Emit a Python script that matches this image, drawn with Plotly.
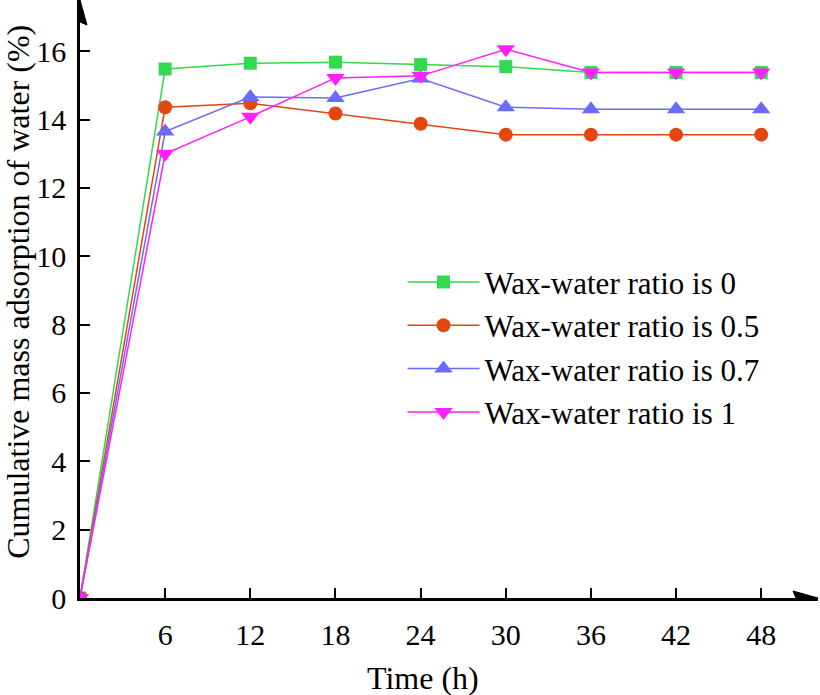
import plotly.graph_objects as go

time_h = [0, 6, 12, 18, 24, 30, 36, 42, 48]
ratio_0 = [0, 15.48, 15.65, 15.68, 15.61, 15.55, 15.38, 15.38, 15.38]
ratio_05 = [0, 14.36, 14.48, 14.18, 13.88, 13.56, 13.56, 13.56, 13.56]
ratio_07 = [0, 13.65, 14.66, 14.63, 15.2, 14.36, 14.3, 14.3, 14.3]
ratio_1 = [0, 13.0, 14.08, 15.22, 15.28, 16.06, 15.38, 15.38, 15.38]
series_names = ["Wax-water ratio is 0", "Wax-water ratio is 0.5",
                "Wax-water ratio is 0.7", "Wax-water ratio is 1"]
x_ticks = [6, 12, 18, 24, 30, 36, 42, 48]
y_ticks = [0, 2, 4, 6, 8, 10, 12, 14, 16]
x_title = "Time (h)"
y_title = "Cumulative mass adsorption of water (%)"

colors = ["#33d94f", "#e2470f", "#6b6bff", "#ff1fff"]
symbols = ["square", "circle", "triangle-up", "triangle-down"]
sizes = [13, 14, 16, 16]

FONT = "Liberation Serif, Times New Roman, serif"

fig = go.Figure()
for name, ys, c, s, sz in zip(series_names, [ratio_0, ratio_05, ratio_07, ratio_1],
                              colors, symbols, sizes):
    fig.add_trace(go.Scatter(
        x=time_h, y=ys, name=name, mode="lines+markers",
        line=dict(color=c, width=1.5),
        marker=dict(symbol=s, size=sz, color=c, line=dict(width=0)),
    ))

X_MAX = 52
Y_MAX = 17.5

fig.update_xaxes(
    range=[0, X_MAX], tickvals=x_ticks, ticks="inside", ticklen=10, tickwidth=2,
    tickcolor="black", showgrid=False, zeroline=False,
    showline=True, linewidth=2.5, linecolor="black", automargin=False,
    ticklabelstandoff=8,
    tickfont=dict(family=FONT, size=30, color="black"),
)
fig.update_yaxes(
    range=[0, Y_MAX], tickvals=y_ticks, ticks="inside", ticklen=10, tickwidth=2,
    tickcolor="black", showgrid=False, zeroline=False,
    showline=True, linewidth=2.5, linecolor="black", automargin=False,
    ticklabelstandoff=5,
    tickfont=dict(family=FONT, size=30, color="black"),
)

# axis titles
fig.add_annotation(text=x_title, xref="paper", yref="paper", x=0.465, y=-0.134,
                   xanchor="center", yanchor="middle", showarrow=False,
                   font=dict(family=FONT, size=32, color="black"))
fig.add_annotation(text=y_title, xref="paper", yref="paper", x=-0.084, y=0.512,
                   xanchor="center", yanchor="middle", showarrow=False, textangle=-90,
                   borderpad=0,
                   font=dict(family=FONT, size=32, color="black"))

# arrowheads at the ends of the axes (pixel-sized, anchored at axis ends)
fig.add_shape(type="path", xref="x", yref="y", xsizemode="pixel", ysizemode="pixel",
              xanchor=0, yanchor=Y_MAX, path="M-7,-25 L0,0 L7,-25 L0,-22 Z",
              fillcolor="black", line=dict(color="black", width=1), layer="above")
fig.add_shape(type="path", xref="x", yref="y", xsizemode="pixel", ysizemode="pixel",
              xanchor=X_MAX, yanchor=0, path="M-25,-7 L0,0 L-25,7 L-22,0 Z",
              fillcolor="black", line=dict(color="black", width=1), layer="above")

fig.update_layout(
    width=820, height=695,
    margin=dict(l=80, r=2, t=0, b=97),
    plot_bgcolor="white", paper_bgcolor="white",
    font=dict(family=FONT, color="black"),
    legend=dict(x=0.437, y=0.573, xanchor="left", yanchor="top",
                font=dict(family=FONT, size=31, color="black"),
                bgcolor="rgba(0,0,0,0)", itemwidth=72, tracegroupgap=0),
)

fig.write_html("out.html", config={"displayModeBar": False},
               post_script="document.body.style.margin='0';document.body.style.padding='0';")
